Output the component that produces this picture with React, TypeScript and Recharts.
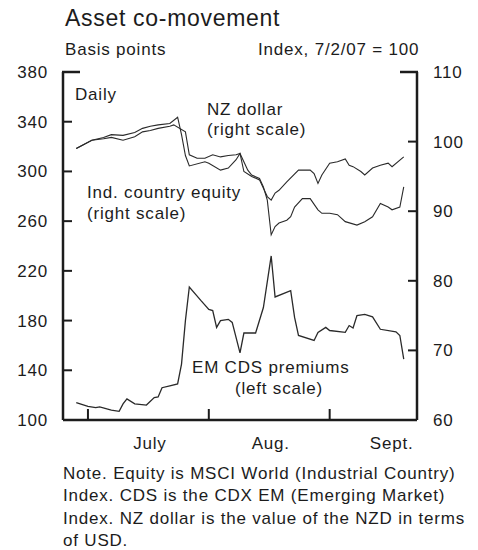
import React from 'react';
import { LineChart, Line, XAxis, YAxis } from 'recharts';

// x = calendar day offset from July 1, 2007
const cdsDays = [-3, 0, 2, 3, 6, 8, 9, 10, 12, 15, 17, 18, 19, 21, 23, 24, 25, 26, 29, 31, 32, 33, 34, 36, 37, 39, 40, 43, 45, 47, 48, 52, 53, 54, 58, 59, 61, 62, 66, 67, 68, 69, 71, 73, 75, 79, 80, 81];
const cdsValues = [114, 111, 110, 110.5, 108, 107, 113, 117, 113, 112, 118, 118.5, 126, 127.5, 129, 145, 180, 207, 196, 189, 188, 174.5, 180, 181, 178.5, 154, 170, 170, 190.5, 232, 199, 204, 182.5, 168, 164, 170.5, 174.5, 172, 170.5, 176, 174, 184, 185, 183, 173, 171, 168, 149];

const nzdDays = [-3, 1, 4, 6, 9, 12, 14, 16, 18, 21, 23, 24, 25, 26, 30, 31, 34, 36, 38, 39, 41, 42, 44, 45, 46, 47, 48, 49, 51, 52, 53, 55, 57, 59, 60, 62, 64, 66, 69, 71, 73, 75, 77, 78, 80, 81];
const nzdValues = [99.0, 100.2, 100.6, 101.0, 100.9, 101.3, 101.9, 102.2, 102.4, 102.6, 103.5, 101.0, 98.0, 96.5, 97.1, 96.9, 95.9, 96.2, 97.4, 98.3, 95.9, 95.2, 94.7, 93.5, 91.6, 86.6, 87.8, 88.3, 88.7, 89.2, 90.6, 91.8, 91.8, 90.2, 89.7, 89.7, 89.5, 88.5, 88.0, 88.5, 89.2, 91.1, 90.6, 90.2, 90.6, 93.5];

const equityDays = [-3, 1, 4, 6, 9, 12, 14, 16, 18, 21, 22, 25, 26, 28, 30, 32, 34, 36, 38, 39, 40, 42, 44, 46, 47, 48, 49, 51, 54, 57, 58, 59, 60, 62, 64, 66, 67, 68, 70, 71, 73, 75, 77, 78, 81];
const equityValues = [99.0, 100.2, 100.4, 100.6, 100.2, 100.7, 101.4, 101.6, 101.9, 102.2, 102.4, 101.4, 98.1, 97.6, 97.6, 98.1, 97.8, 98.0, 98.1, 98.3, 95.7, 95.0, 94.5, 92.1, 91.6, 92.6, 93.0, 94.2, 95.9, 95.9, 95.4, 94.0, 95.2, 96.9, 97.1, 97.5, 96.6, 96.4, 95.7, 95.2, 96.2, 96.6, 96.9, 96.4, 97.8];

const leftTicks = [100, 140, 180, 220, 260, 300, 340, 380];
const rightTicks = [60, 70, 80, 90, 100, 110];
const monthTicks = [0, 31, 62];
const monthLabels = ['July', 'Aug.', 'Sept.'];

const noteLines = [
  'Note. Equity is MSCI World (Industrial Country)',
  'Index. CDS is the CDX EM (Emerging Market)',
  'Index. NZ dollar is the value of the NZD in terms',
  'of USD.',
];

const toPoints = (days: number[], vals: number[]) => days.map((d, i) => ({ d, v: vals[i] }));
const cdsData = toPoints(cdsDays, cdsValues);
const nzdData = toPoints(nzdDays, nzdValues);
const equityData = toPoints(equityDays, equityValues);

const FONT = '"Liberation Sans", Arial, Helvetica, sans-serif';
const INK = '#1c1c1c';
const TXT = { fontFamily: FONT, fontSize: 17, fill: INK, letterSpacing: 0.8 } as const;

const LeftTick = (props: any) => {
  const { x, y, payload } = props;
  const v = payload.value;
  return (
    <g>
      {v === 380 ? (
        <line x1={x - 1} x2={x + 17} y1={y} y2={y} stroke={INK} strokeWidth={2.5} />
      ) : v !== 100 ? (
        <line x1={x} x2={x + 9} y1={y} y2={y} stroke={INK} strokeWidth={2} />
      ) : null}
      <text x={x - 15} y={y + 6} textAnchor="end" style={TXT}>{v}</text>
    </g>
  );
};

const RightTick = (props: any) => {
  const { x, y, payload } = props;
  const v = payload.value;
  return (
    <g>
      {v === 110 ? (
        <line x1={x - 17} x2={x + 1} y1={y} y2={y} stroke={INK} strokeWidth={2.5} />
      ) : v !== 60 ? (
        <line x1={x - 9} x2={x} y1={y} y2={y} stroke={INK} strokeWidth={2} />
      ) : null}
      <text x={x + 16} y={y + 6} textAnchor="start" style={TXT}>{v}</text>
    </g>
  );
};

const BottomTick = (props: any) => {
  const { x, y, payload, index } = props;
  return (
    <g>
      <line x1={x} x2={x} y1={y} y2={y - 11} stroke={INK} strokeWidth={2} />
      <text x={x + 62} y={y + 29} textAnchor="middle" style={TXT}>{monthLabels[index] ?? ''}</text>
    </g>
  );
};

export default function App() {
  const lineStroke = '#2a2a2a';
  return (
    <div style={{ position: 'absolute', left: 0, top: 0, width: 478, height: 550, background: '#fff' }}>
      <LineChart width={478} height={550} margin={{ top: 72, right: 0, bottom: 100, left: 0 }}>
        <XAxis
          dataKey="d"
          type="number"
          domain={[-6.4, 84.4]}
          ticks={monthTicks}
          allowDataOverflow
          axisLine={{ stroke: INK, strokeWidth: 2.5 }}
          tickLine={false}
          tickSize={0}
          tickMargin={0}
          height={30}
          tick={<BottomTick />}
        />
        <YAxis
          yAxisId="left"
          orientation="left"
          domain={[100, 380]}
          ticks={leftTicks}
          allowDataOverflow
          width={63}
          axisLine={{ stroke: INK, strokeWidth: 2.5 }}
          tickLine={false}
          tickSize={0}
          tickMargin={0}
          tick={<LeftTick />}
        />
        <YAxis
          yAxisId="right"
          orientation="right"
          domain={[60, 110]}
          ticks={rightTicks}
          allowDataOverflow
          width={61}
          axisLine={{ stroke: INK, strokeWidth: 2.5 }}
          tickLine={false}
          tickSize={0}
          tickMargin={0}
          tick={<RightTick />}
        />
        <Line data={cdsData} dataKey="v" yAxisId="left" type="linear" stroke={lineStroke} strokeWidth={1.3} dot={false} isAnimationActive={false} />
        <Line data={nzdData} dataKey="v" yAxisId="right" type="linear" stroke={lineStroke} strokeWidth={1.1} dot={false} isAnimationActive={false} />
        <Line data={equityData} dataKey="v" yAxisId="right" type="linear" stroke={lineStroke} strokeWidth={1.1} dot={false} isAnimationActive={false} />
      </LineChart>
      <svg width={478} height={550} style={{ position: 'absolute', left: 0, top: 0, pointerEvents: 'none' }}>
        <text x={65} y={26} style={{ ...TXT, fontSize: 23, letterSpacing: 0.7 }}>Asset co-movement</text>
        <text x={65} y={55} style={TXT}>Basis points</text>
        <text x={258} y={55} style={TXT}>Index, 7/2/07 = 100</text>
        <text x={75} y={100} style={TXT}>Daily</text>
        <text x={207} y={115} style={TXT}>NZ dollar</text>
        <text x={207} y={135} style={TXT}>(right scale)</text>
        <text x={87} y={198} style={TXT}>Ind. country equity</text>
        <text x={87} y={219} style={TXT}>(right scale)</text>
        <text x={192} y={373} style={TXT}>EM CDS premiums</text>
        <text x={235} y={394} style={TXT}>(left scale)</text>
        {noteLines.map((t, i) => (
          <text key={i} x={63} y={479 + i * 22.3} style={TXT}>{t}</text>
        ))}
      </svg>
    </div>
  );
}
